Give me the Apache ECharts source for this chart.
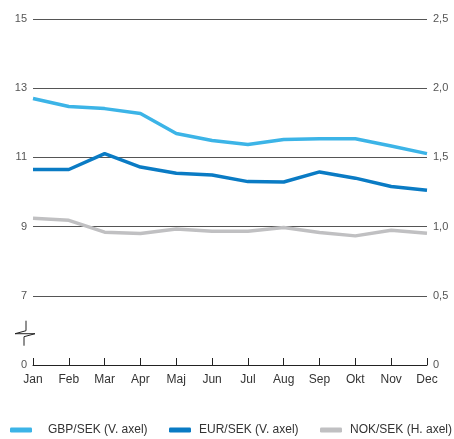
<!DOCTYPE html>
<html>
<head>
<meta charset="utf-8">
<script src="https://cdn.jsdelivr.net/npm/echarts@6/dist/echarts.min.js"></script>
<style>
  html, body { margin: 0; padding: 0; background: #fff; }
  #chart { width: 454px; height: 439px; }
</style>
</head>
<body>
<div id="chart"></div>
<script>
// månader
var months = ['Jan', 'Feb', 'Mar', 'Apr', 'Maj', 'Jun', 'Jul', 'Aug', 'Sep', 'Okt', 'Nov', 'Dec'];
// V. axel
var gbpSek = [12.70, 12.47, 12.41, 12.27, 11.69, 11.49, 11.37, 11.52, 11.54, 11.54, 11.33, 11.11];
var eurSek = [10.65, 10.65, 11.11, 10.72, 10.54, 10.49, 10.30, 10.29, 10.58, 10.40, 10.16, 10.05];
// H. axel
var nokSek = [1.06, 1.045, 0.96, 0.95, 0.983, 0.966, 0.966, 0.993, 0.957, 0.933, 0.973, 0.952];

var names = ['GBP/SEK (V. axel)', 'EUR/SEK (V. axel)', 'NOK/SEK (H. axel)'];
var colors = ['#3cb4e7', '#0a7bc4', '#c0c0c2'];

var font = 'Liberation Sans';
var chart = echarts.init(document.getElementById('chart'));

function legendItem(i, left, gap) {
    return {
        data: [names[i]],
        left: left,
        top: 424,
        icon: 'roundRect',
        itemWidth: 22,
        itemHeight: 5,
        padding: 0,
        itemStyle: { color: colors[i], borderWidth: 0 },
        lineStyle: { width: 0 },
        textStyle: { fontFamily: font, fontSize: 12, color: '#333', padding: [0, 0, 0, gap] }
    };
}

var option = {
    animation: false,
    color: colors,
    grid: { left: 33, right: 27, top: 19, bottom: 74 },
    legend: [legendItem(0, 10, 11), legendItem(1, 169, 3), legendItem(2, 320, 3)],
    xAxis: {
        type: 'category',
        boundaryGap: false,
        data: months,
        axisLine: { lineStyle: { color: '#222', width: 1 } },
        axisTick: { inside: true, length: 7, lineStyle: { color: '#222' } },
        axisLabel: { fontFamily: font, fontSize: 12, color: '#333', margin: 9 }
    },
    yAxis: [
        {
            type: 'value',
            min: 5,
            max: 15,
            interval: 1,
            position: 'left',
            axisLine: { show: false },
            axisTick: { show: false },
            splitLine: { show: false },
            axisLabel: {
                fontFamily: font, fontSize: 11, color: '#555', margin: 6,
                formatter: function (v) {
                    if (v === 5) return '0';
                    return v % 2 === 1 ? String(v) : '';
                }
            }
        },
        {
            type: 'value',
            min: 0,
            max: 2.5,
            interval: 0.5,
            position: 'right',
            axisLine: { show: false },
            axisTick: { show: false },
            splitLine: { show: true, lineStyle: { color: '#555', width: 1 } },
            axisLabel: {
                fontFamily: font, fontSize: 11, color: '#555', margin: 6,
                formatter: function (v) {
                    return v === 0 ? '0' : v.toFixed(1).replace('.', ',');
                }
            }
        }
    ],
    series: [
        { name: names[0], type: 'line', yAxisIndex: 0, data: gbpSek, showSymbol: false, lineStyle: { width: 3.5 } },
        { name: names[1], type: 'line', yAxisIndex: 0, data: eurSek, showSymbol: false, lineStyle: { width: 3.5 } },
        { name: names[2], type: 'line', yAxisIndex: 1, data: nokSek, showSymbol: false, lineStyle: { width: 3.5 } }
    ]
};

chart.setOption(option);

// axelbrott
var x0 = chart.convertToPixel({ xAxisIndex: 0 }, 0);
var yA = chart.convertToPixel({ yAxisIndex: 1 }, 0.32);
chart.setOption({
    graphic: [
        {
            type: 'polyline',
            shape: {
                points: [
                    [x0 - 7, yA], [x0 - 7, yA + 10], [x0 - 18, yA + 13],
                    [x0 + 2, yA + 13], [x0 - 9, yA + 16], [x0 - 9, yA + 25]
                ]
            },
            style: { stroke: '#222', lineWidth: 1, fill: null }
        }
    ]
});
</script>
</body>
</html>
